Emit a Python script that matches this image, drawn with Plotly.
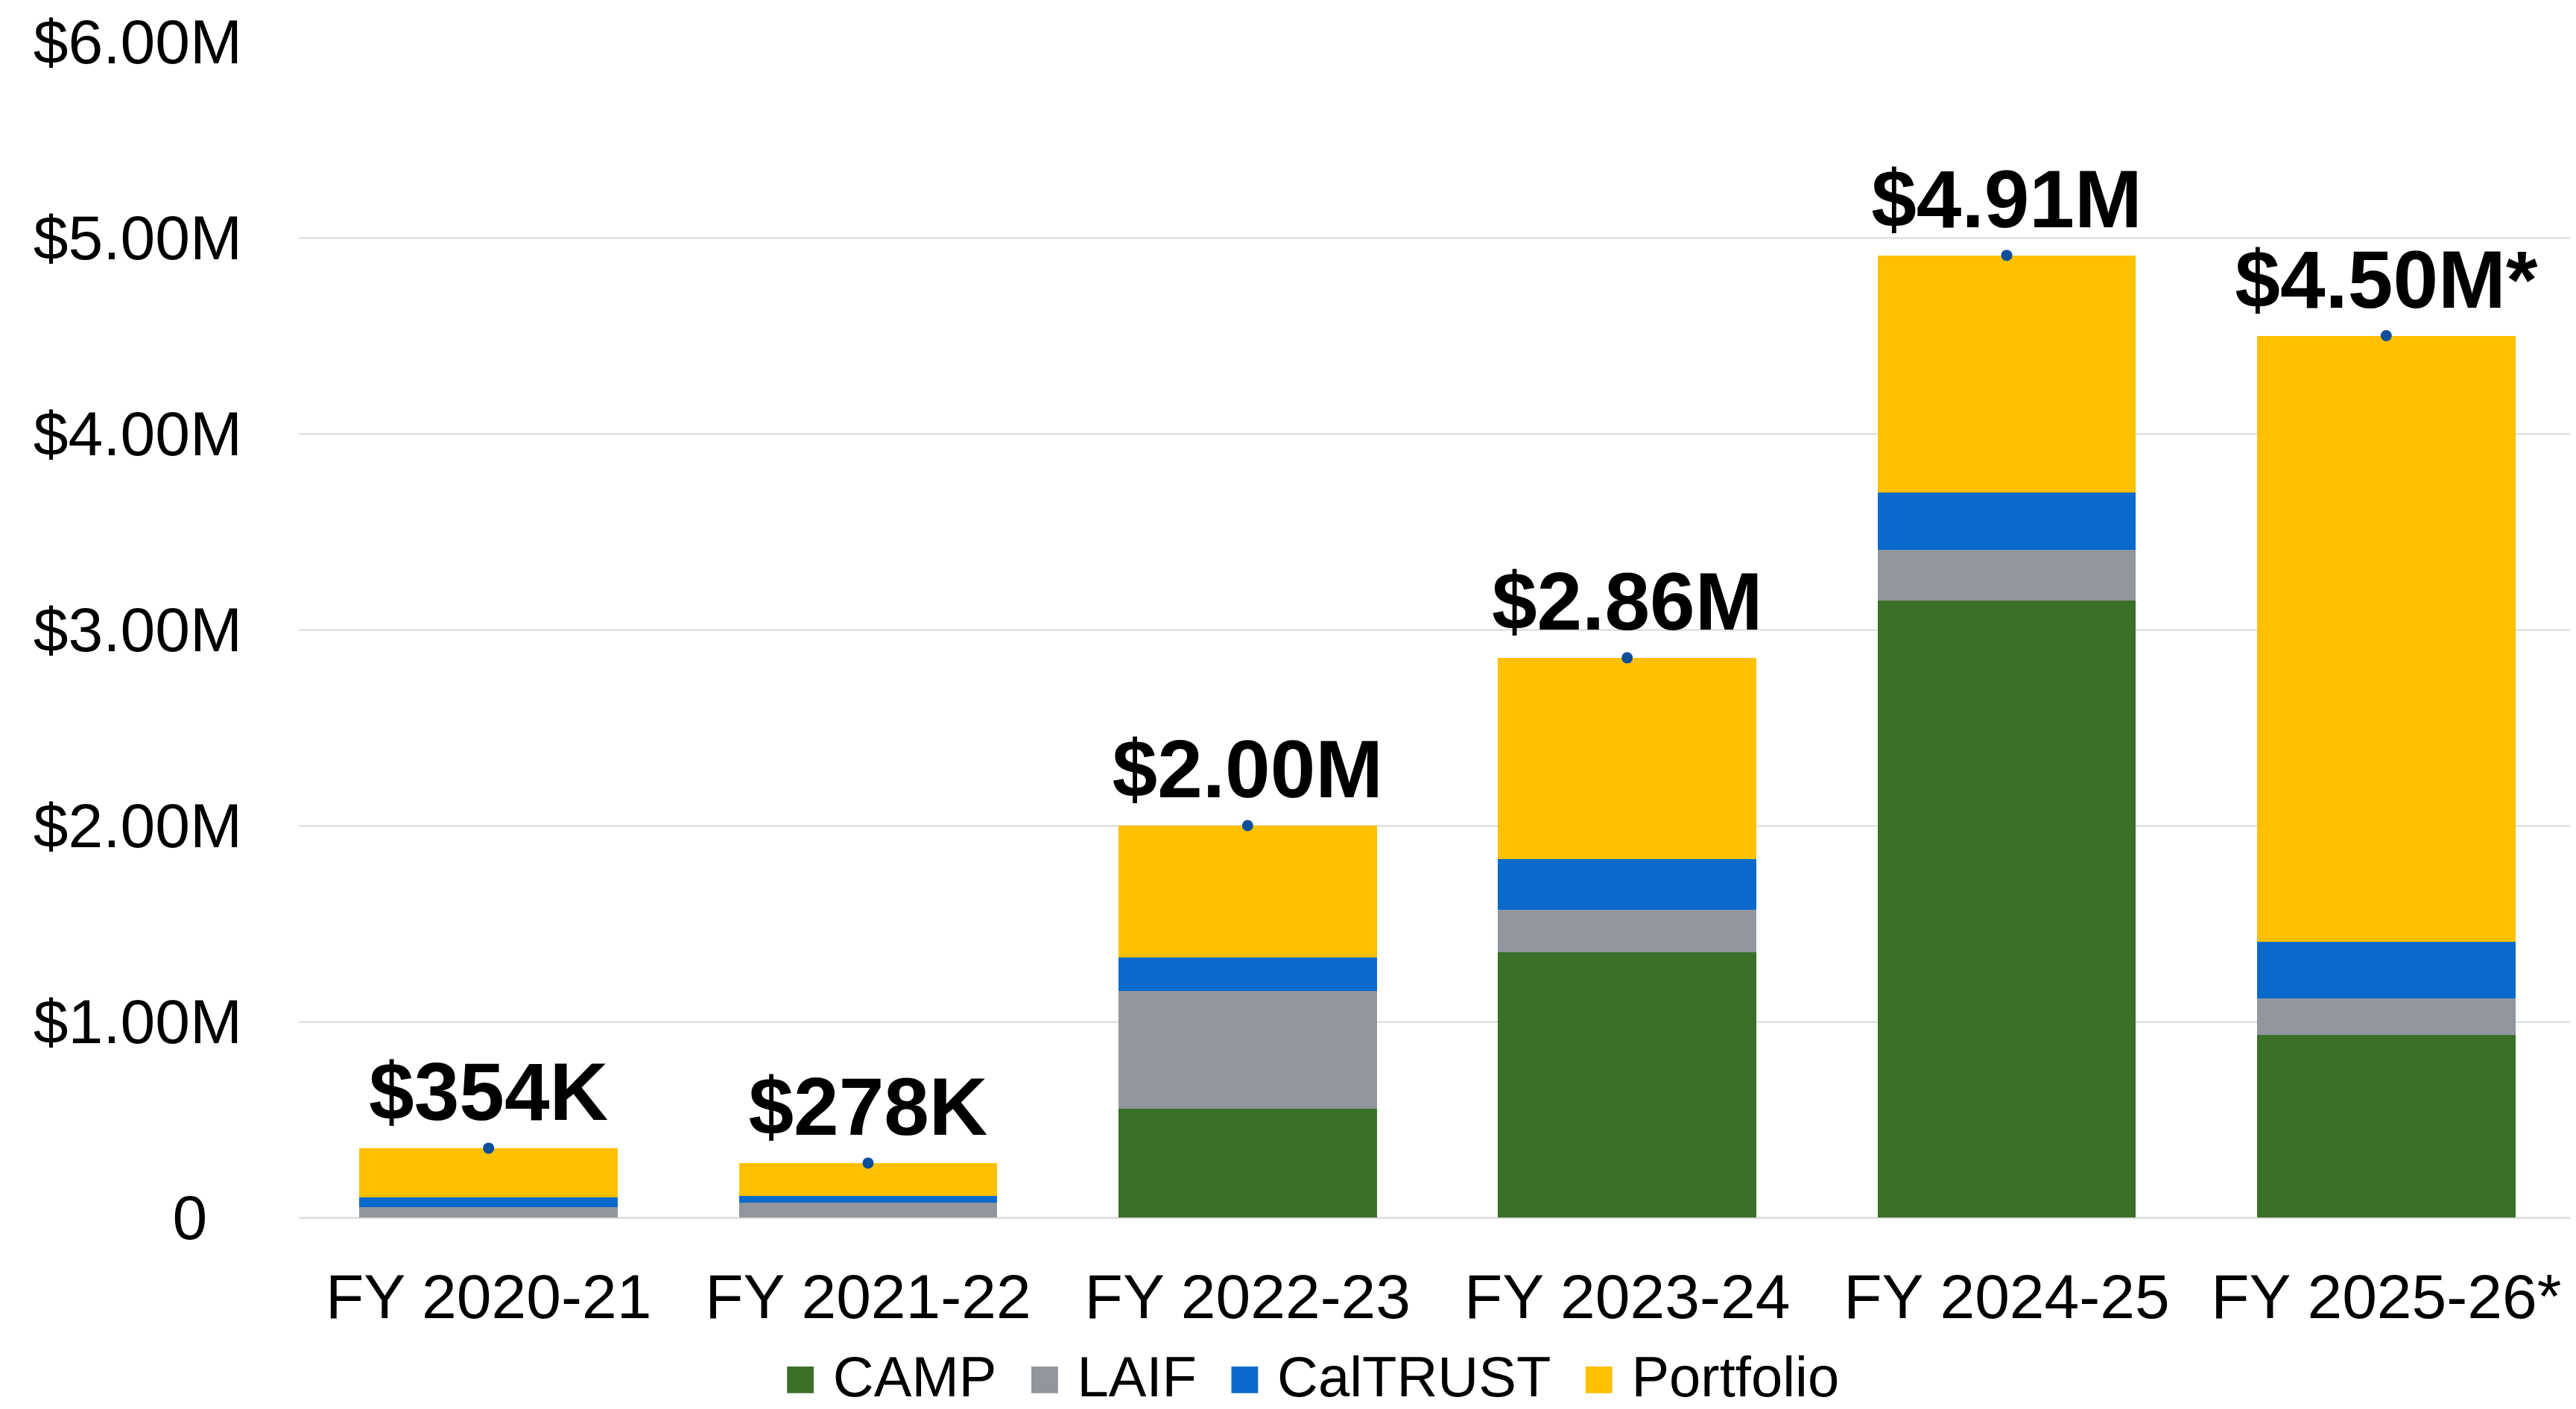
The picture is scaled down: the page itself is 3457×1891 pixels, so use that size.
import plotly.graph_objects as go

# ---- data (values in $ millions) ----
categories = ["FY 2020-21", "FY 2021-22", "FY 2022-23", "FY 2023-24", "FY 2024-25", "FY 2025-26*"]
camp = [0.0, 0.0, 0.557, 1.352, 3.149, 0.932]
laif = [0.053, 0.075, 0.600, 0.219, 0.259, 0.186]
caltrust = [0.048, 0.034, 0.171, 0.258, 0.291, 0.289]
portfolio = [0.253, 0.169, 0.672, 1.027, 1.211, 3.093]
totals = [0.354, 0.278, 2.000, 2.856, 4.910, 4.500]
total_labels = ["$354K", "$278K", "$2.00M", "$2.86M", "$4.91M", "$4.50M*"]

series_names = ["CAMP", "LAIF", "CalTRUST", "Portfolio"]
series_values = [camp, laif, caltrust, portfolio]
series_colors = ["#3a7028", "#92969c", "#0a6acb", "#ffc000"]

y_tickvals = [0, 1, 2, 3, 4, 5, 6]
y_ticktext = ["0\u00a0\u00a0", "$1.00M", "$2.00M", "$3.00M", "$4.00M", "$5.00M", "$6.00M"]

FONT = "Liberation Sans, Arial, sans-serif"

fig = go.Figure()
for name, vals, col in zip(series_names, series_values, series_colors):
    fig.add_trace(go.Bar(
        x=categories, y=vals, name=name,
        marker=dict(color=col, line=dict(width=0)),
        showlegend=False,
        hoverinfo="x+y+name",
    ))

fig.add_trace(go.Scatter(
    x=categories, y=totals, mode="markers+text",
    text=total_labels, textposition="top center",
    textfont=dict(family=FONT, size=109, color="#000000", weight="bold"),
    marker=dict(size=15, color="#0d4e9b"),
    showlegend=False, cliponaxis=False,
))

# legend built from the series names/colours
parts = []
for name, col in zip(series_names, series_colors):
    parts.append(f"<span style='color:{col};font-size:74px'>\u25A0</span>\u00a0{name}")
legend_text = "\u00a0\u00a0".join(parts)
fig.add_annotation(
    text=legend_text, xref="paper", yref="paper", x=0.4447, y=-0.135,
    xanchor="center", yanchor="middle", showarrow=False,
    font=dict(family=FONT, size=76, color="#000000"),
)

# page body has an 8px margin: shrink the figure so the plot area lands on the reference
fig.update_layout(
    width=3449, height=1883,
    margin=dict(l=393, r=0, t=48, b=257),
    paper_bgcolor="white", plot_bgcolor="white",
    barmode="stack", bargap=0.32,
    font=dict(family=FONT, color="#000000"),
)
fig.update_xaxes(
    type="category", showgrid=False, showline=False, ticks="",
    tickfont=dict(family=FONT, size=84, color="#000000"),
    ticklabelstandoff=50,
)
fig.update_yaxes(
    range=[0, 6], tickvals=y_tickvals, ticktext=y_ticktext,
    showgrid=True, gridcolor="#e4e4e4", gridwidth=3,
    zeroline=True, zerolinecolor="#e0e0e0", zerolinewidth=3,
    showline=False, ticks="",
    tickfont=dict(family=FONT, size=84, color="#000000"),
    ticklabelstandoff=75,
)

fig.write_html("out.html")
